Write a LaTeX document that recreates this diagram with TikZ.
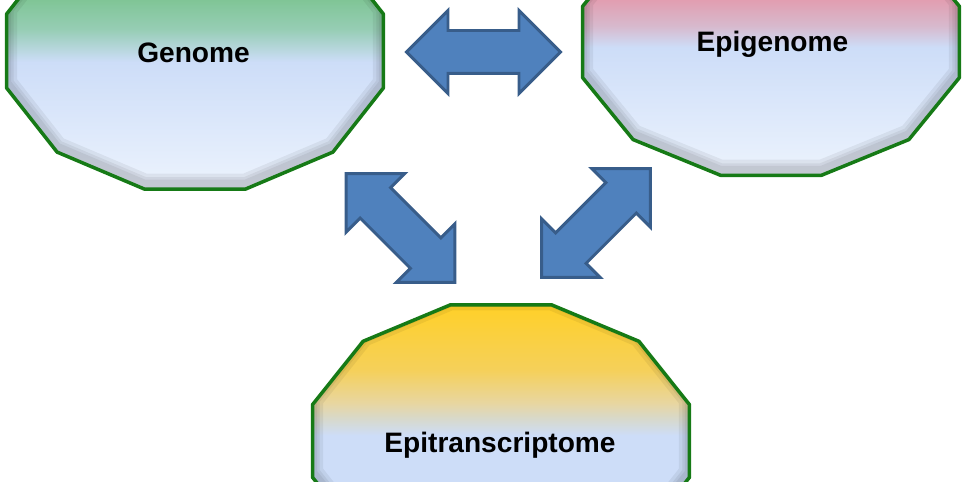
\documentclass[tikz,border=0pt]{standalone}
\usepackage{fontspec}
\setmainfont{Liberation Sans}
\usetikzlibrary{shapes.arrows,calc}

% Farben
\definecolor{randgruen}{RGB}{22,122,22}
\definecolor{pfeilblau}{RGB}{79,129,189}
\definecolor{pfeilrand}{RGB}{56,93,138}
\definecolor{hellblau}{RGB}{205,221,248}
\definecolor{weissblau}{RGB}{236,243,253}
\definecolor{gruenhell}{RGB}{150,205,180}
\definecolor{gruen}{RGB}{125,196,146}
\definecolor{gruendunkel}{RGB}{95,178,115}
\definecolor{rosahell}{RGB}{215,185,205}
\definecolor{rosa}{RGB}{228,152,170}
\definecolor{rosadunkel}{RGB}{220,130,150}
\definecolor{goldhell}{RGB}{215,217,205}
\definecolor{goldmitte}{RGB}{232,214,160}
\definecolor{gold}{RGB}{245,208,90}
\definecolor{golddunkel}{RGB}{255,208,40}

% Verlaeufe (Pfad-Box liegt zwischen 25bp und 75bp)
\pgfdeclareverticalshading{genomverlauf}{100bp}{color(0bp)=(weissblau); color(25bp)=(weissblau); color(48bp)=(hellblau); color(54bp)=(gruenhell); color(60bp)=(gruen); color(75bp)=(gruendunkel); color(100bp)=(gruendunkel)}
\pgfdeclareverticalshading{epigenomverlauf}{100bp}{color(0bp)=(weissblau); color(25bp)=(weissblau); color(49bp)=(hellblau); color(53bp)=(rosahell); color(59bp)=(rosa); color(75bp)=(rosadunkel); color(100bp)=(rosadunkel)}
\pgfdeclareverticalshading{epitransverlauf}{100bp}{color(0bp)=(weissblau); color(25bp)=(weissblau); color(41bp)=(hellblau); color(51bp)=(hellblau); color(54bp)=(goldhell); color(57bp)=(goldmitte); color(63bp)=(gold); color(75bp)=(golddunkel); color(100bp)=(golddunkel)}

% Zwoelfeck um einen Mittelpunkt
\newcommand{\zwoelfeck}[2]{($(#1)+(15:195 and #2)$) \foreach \w in {45,75,...,345} {-- ($(#1)+(\w:195 and #2)$)} -- cycle}

\begin{document}
\begin{tikzpicture}[x=0.02cm, y=0.02cm,
  feld/.style={draw=randgruen, line width=2pt, line join=round},
  schatten/.style={draw=black, line width=#1, opacity=0.06},
  titel/.style={font=\bfseries\fontsize{16}{19}\selectfont, anchor=base},
  linkpfeil/.style={double arrow, draw=pfeilrand, fill=pfeilblau, line width=1.7pt,
    minimum height=3.08cm, double arrow head extend=0.4cm,
    inner xsep=0pt, inner ysep=0.4cm}]
\useasboundingbox (0,0) rectangle (965,482);
\clip (0,0) rectangle (965,482);

% Felder
\coordinate (mG) at (195,431);
\coordinate (mE) at (771,440);
\coordinate (mT) at (501,41);
\foreach \m/\r/\v in {mG/143/genomverlauf, mE/138/epigenomverlauf, mT/141/epitransverlauf}{
  \coordinate (\m s) at ($(\m)+(0,5)$); % Schatten nach unten
  \shade[shading=\v] \zwoelfeck{\m}{\r};
  \begin{scope}
    \clip \zwoelfeck{\m}{\r};
    \draw[schatten=12pt] \zwoelfeck{\m s}{\r}; % Innenkante
    \draw[schatten=8pt] \zwoelfeck{\m s}{\r};
    \draw[schatten=5pt] \zwoelfeck{\m s}{\r};
  \end{scope}
  \draw[feld] \zwoelfeck{\m}{\r};
}

% Beschriftung
\node[titel] (genome) at (193.5,419) {Genome};
\node[titel] (epigenome) at (772.5,430) {Epigenome};
\node[titel] (epitrans) at (500,29) {Epitranscriptome};

% Pfeile
\node[linkpfeil] (pfeilGE) at (483.5,430) {};
\node[linkpfeil, rotate=-45] (pfeilGT) at (400.5,254) {};
\node[linkpfeil, rotate=45] (pfeilET) at (596,259) {};
\end{tikzpicture}
\end{document}
